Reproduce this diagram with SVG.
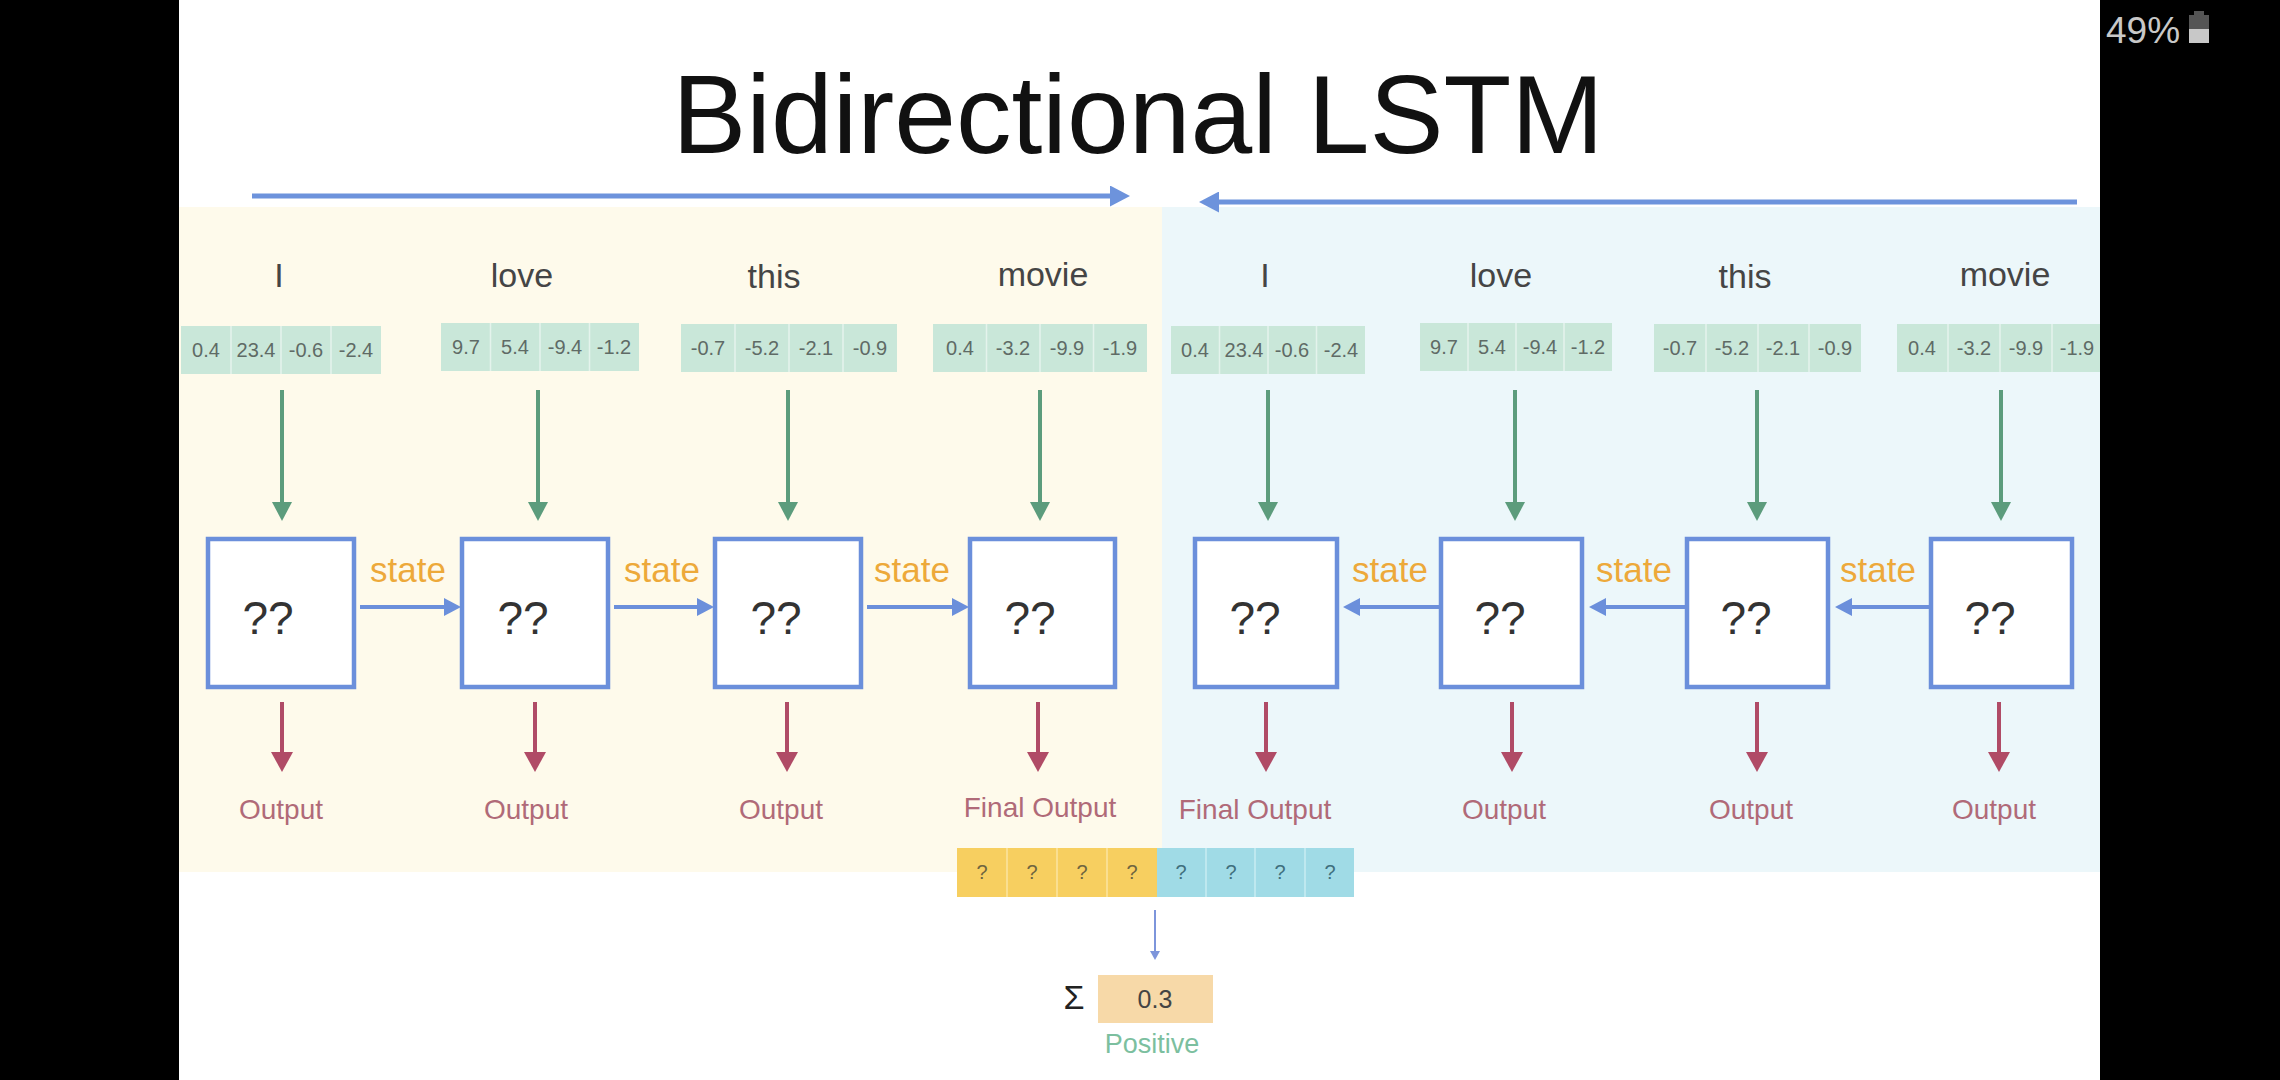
<svg xmlns="http://www.w3.org/2000/svg" width="2280" height="1080" viewBox="0 0 2280 1080">
<defs>
<style>
text{font-family:"Liberation Sans",Arial,sans-serif;}
.word{font-size:34px;fill:#454545;text-anchor:middle;}
.num{font-size:20px;fill:#5f6b66;text-anchor:middle;}
.vec{fill:#c9e7d9;}
.div{stroke:#e4f3ec;stroke-width:1.5;}
.ydiv{stroke:#fbe4a0;stroke-width:1.5;}
.bdiv{stroke:#c8ecf2;stroke-width:1.5;}
.box{fill:#ffffff;stroke:#6b8fdb;stroke-width:4.5;}
.qq{font-size:46px;fill:#333333;text-anchor:middle;}
.state{font-size:35px;fill:#eda93a;text-anchor:middle;}
.out{font-size:28px;fill:#b06a78;text-anchor:middle;}
.green{stroke:#5c9c7c;stroke-width:4;fill:none;}
.red{stroke:#b04b66;stroke-width:4;fill:none;}
.blue{stroke:#6b8fdb;stroke-width:4;fill:none;}
.top{stroke:#6d93dc;stroke-width:5;fill:none;}
.thin{stroke:#7d95db;stroke-width:2;fill:none;}
.q{font-size:20px;text-anchor:middle;}
</style>
<marker id="hg" markerUnits="userSpaceOnUse" markerWidth="20" markerHeight="20" refX="0" refY="10" orient="auto"><path d="M0,0 L19,10 L0,20 z" fill="#5c9c7c"/></marker>
<marker id="hr" markerUnits="userSpaceOnUse" markerWidth="22" markerHeight="22" refX="0" refY="11" orient="auto"><path d="M0,0 L20,11 L0,22 z" fill="#b04b66"/></marker>
<marker id="hb" markerUnits="userSpaceOnUse" markerWidth="18" markerHeight="18" refX="0" refY="9" orient="auto"><path d="M0,0 L17,9 L0,18 z" fill="#6b8fdb"/></marker>
<marker id="ht" markerUnits="userSpaceOnUse" markerWidth="21" markerHeight="21" refX="0" refY="10.5" orient="auto"><path d="M0,0 L20,10.5 L0,21 z" fill="#6d93dc"/></marker>
<marker id="hs" markerUnits="userSpaceOnUse" markerWidth="10" markerHeight="10" refX="0" refY="5" orient="auto"><path d="M0,0 L9,5 L0,10 z" fill="#7d95db"/></marker>
</defs>

<rect x="0" y="0" width="2280" height="1080" fill="#ffffff"/>
<rect id="panel-forward" x="179" y="207" width="983" height="665" fill="#fefaeb"/>
<rect id="panel-backward" x="1162" y="207" width="938" height="665" fill="#ecf7fa"/>

<text id="title" x="1138" y="153" font-size="111" fill="#111111" text-anchor="middle">Bidirectional LSTM</text>

<g id="connectors">
<line class="top" x1="252" y1="196" x2="1110" y2="196" marker-end="url(#ht)"/>
<line class="top" x1="2077" y1="202" x2="1219" y2="202" marker-end="url(#ht)"/>
<line class="green" x1="282" y1="390" x2="282" y2="502" marker-end="url(#hg)"/>
<line class="green" x1="538" y1="390" x2="538" y2="502" marker-end="url(#hg)"/>
<line class="green" x1="788" y1="390" x2="788" y2="502" marker-end="url(#hg)"/>
<line class="green" x1="1040" y1="390" x2="1040" y2="502" marker-end="url(#hg)"/>
<line class="green" x1="1268" y1="390" x2="1268" y2="502" marker-end="url(#hg)"/>
<line class="green" x1="1515" y1="390" x2="1515" y2="502" marker-end="url(#hg)"/>
<line class="green" x1="1757" y1="390" x2="1757" y2="502" marker-end="url(#hg)"/>
<line class="green" x1="2001" y1="390" x2="2001" y2="502" marker-end="url(#hg)"/>
<line class="blue" x1="360" y1="607" x2="444" y2="607" marker-end="url(#hb)"/>
<line class="blue" x1="614" y1="607" x2="697" y2="607" marker-end="url(#hb)"/>
<line class="blue" x1="867" y1="607" x2="952" y2="607" marker-end="url(#hb)"/>
<line class="blue" x1="1441" y1="607" x2="1360" y2="607" marker-end="url(#hb)"/>
<line class="blue" x1="1687" y1="607" x2="1606" y2="607" marker-end="url(#hb)"/>
<line class="blue" x1="1931" y1="607" x2="1852" y2="607" marker-end="url(#hb)"/>
<line class="red" x1="282" y1="702" x2="282" y2="752" marker-end="url(#hr)"/>
<line class="red" x1="535" y1="702" x2="535" y2="752" marker-end="url(#hr)"/>
<line class="red" x1="787" y1="702" x2="787" y2="752" marker-end="url(#hr)"/>
<line class="red" x1="1038" y1="702" x2="1038" y2="752" marker-end="url(#hr)"/>
<line class="red" x1="1266" y1="702" x2="1266" y2="752" marker-end="url(#hr)"/>
<line class="red" x1="1512" y1="702" x2="1512" y2="752" marker-end="url(#hr)"/>
<line class="red" x1="1757" y1="702" x2="1757" y2="752" marker-end="url(#hr)"/>
<line class="red" x1="1999" y1="702" x2="1999" y2="752" marker-end="url(#hr)"/>
<line class="thin" x1="1155" y1="910" x2="1155" y2="951" marker-end="url(#hs)"/>
<text class="state" x="408" y="582">state</text>
<text class="state" x="662" y="582">state</text>
<text class="state" x="912" y="582">state</text>
<text class="state" x="1390" y="582">state</text>
<text class="state" x="1634" y="582">state</text>
<text class="state" x="1878" y="582">state</text>
</g>

<g id="fw-word-1"><text class="word" x="279" y="287">I</text>
<rect class="vec" x="181" y="326" width="200" height="48"/>
<line class="div" x1="231" y1="326" x2="231" y2="374"/><line class="div" x1="281" y1="326" x2="281" y2="374"/><line class="div" x1="331" y1="326" x2="331" y2="374"/>
<text class="num" x="206" y="357">0.4</text><text class="num" x="256" y="357">23.4</text><text class="num" x="306" y="357">-0.6</text><text class="num" x="356" y="357">-2.4</text></g>

<g id="fw-word-2"><text class="word" x="522" y="287">love</text>
<rect class="vec" x="441" y="323" width="198" height="48"/>
<line class="div" x1="490.5" y1="323" x2="490.5" y2="371"/><line class="div" x1="540" y1="323" x2="540" y2="371"/><line class="div" x1="589.5" y1="323" x2="589.5" y2="371"/>
<text class="num" x="466" y="354">9.7</text><text class="num" x="515" y="354">5.4</text><text class="num" x="565" y="354">-9.4</text><text class="num" x="614" y="354">-1.2</text></g>

<g id="fw-word-3"><text class="word" x="774" y="288">this</text>
<rect class="vec" x="681" y="324" width="216" height="48"/>
<line class="div" x1="735" y1="324" x2="735" y2="372"/><line class="div" x1="789" y1="324" x2="789" y2="372"/><line class="div" x1="843" y1="324" x2="843" y2="372"/>
<text class="num" x="708" y="355">-0.7</text><text class="num" x="762" y="355">-5.2</text><text class="num" x="816" y="355">-2.1</text><text class="num" x="870" y="355">-0.9</text></g>

<g id="fw-word-4"><text class="word" x="1043" y="286">movie</text>
<rect class="vec" x="933" y="324" width="214" height="48"/>
<line class="div" x1="986.5" y1="324" x2="986.5" y2="372"/><line class="div" x1="1040" y1="324" x2="1040" y2="372"/><line class="div" x1="1093.5" y1="324" x2="1093.5" y2="372"/>
<text class="num" x="960" y="355">0.4</text><text class="num" x="1013" y="355">-3.2</text><text class="num" x="1067" y="355">-9.9</text><text class="num" x="1120" y="355">-1.9</text></g>

<g id="bw-word-1"><text class="word" x="1265" y="287">I</text>
<rect class="vec" x="1171" y="326" width="194" height="48"/>
<line class="div" x1="1219.5" y1="326" x2="1219.5" y2="374"/><line class="div" x1="1268" y1="326" x2="1268" y2="374"/><line class="div" x1="1316.5" y1="326" x2="1316.5" y2="374"/>
<text class="num" x="1195" y="357">0.4</text><text class="num" x="1244" y="357">23.4</text><text class="num" x="1292" y="357">-0.6</text><text class="num" x="1341" y="357">-2.4</text></g>

<g id="bw-word-2"><text class="word" x="1501" y="287">love</text>
<rect class="vec" x="1420" y="323" width="192" height="48"/>
<line class="div" x1="1468" y1="323" x2="1468" y2="371"/><line class="div" x1="1516" y1="323" x2="1516" y2="371"/><line class="div" x1="1564" y1="323" x2="1564" y2="371"/>
<text class="num" x="1444" y="354">9.7</text><text class="num" x="1492" y="354">5.4</text><text class="num" x="1540" y="354">-9.4</text><text class="num" x="1588" y="354">-1.2</text></g>

<g id="bw-word-3"><text class="word" x="1745" y="288">this</text>
<rect class="vec" x="1654" y="324" width="207" height="48"/>
<line class="div" x1="1706" y1="324" x2="1706" y2="372"/><line class="div" x1="1758" y1="324" x2="1758" y2="372"/><line class="div" x1="1809" y1="324" x2="1809" y2="372"/>
<text class="num" x="1680" y="355">-0.7</text><text class="num" x="1732" y="355">-5.2</text><text class="num" x="1783" y="355">-2.1</text><text class="num" x="1835" y="355">-0.9</text></g>

<g id="bw-word-4"><text class="word" x="2005" y="286">movie</text>
<rect class="vec" x="1897" y="324" width="207" height="48"/>
<line class="div" x1="1948" y1="324" x2="1948" y2="372"/><line class="div" x1="2000" y1="324" x2="2000" y2="372"/><line class="div" x1="2052" y1="324" x2="2052" y2="372"/>
<text class="num" x="1922" y="355">0.4</text><text class="num" x="1974" y="355">-3.2</text><text class="num" x="2026" y="355">-9.9</text><text class="num" x="2077" y="355">-1.9</text></g>

<g id="fw-cell-1"><rect class="box" x="208" y="539" width="146" height="148"/><text class="qq" x="268" y="634">??</text></g>
<g id="fw-cell-2"><rect class="box" x="462" y="539" width="146" height="148"/><text class="qq" x="523" y="634">??</text></g>
<g id="fw-cell-3"><rect class="box" x="715" y="539" width="146" height="148"/><text class="qq" x="776" y="634">??</text></g>
<g id="fw-cell-4"><rect class="box" x="970" y="539" width="145" height="148"/><text class="qq" x="1030" y="634">??</text></g>
<g id="bw-cell-1"><rect class="box" x="1195" y="539" width="142" height="148"/><text class="qq" x="1255" y="634">??</text></g>
<g id="bw-cell-2"><rect class="box" x="1441" y="539" width="141" height="148"/><text class="qq" x="1500" y="634">??</text></g>
<g id="bw-cell-3"><rect class="box" x="1687" y="539" width="141" height="148"/><text class="qq" x="1746" y="634">??</text></g>
<g id="bw-cell-4"><rect class="box" x="1931" y="539" width="141" height="148"/><text class="qq" x="1990" y="634">??</text></g>

<g id="fw-out-1"><text class="out" x="281" y="819">Output</text></g>
<g id="fw-out-2"><text class="out" x="526" y="819">Output</text></g>
<g id="fw-out-3"><text class="out" x="781" y="819">Output</text></g>
<g id="fw-out-4"><text class="out" x="1040" y="817">Final Output</text></g>
<g id="bw-out-1"><text class="out" x="1255" y="819">Final Output</text></g>
<g id="bw-out-2"><text class="out" x="1504" y="819">Output</text></g>
<g id="bw-out-3"><text class="out" x="1751" y="819">Output</text></g>
<g id="bw-out-4"><text class="out" x="1994" y="819">Output</text></g>

<g id="concat">
<rect x="957" y="848" width="200" height="49" fill="#f7cf60"/>
<rect x="1157" y="848" width="197" height="49" fill="#a0dbe6"/>
<line class="ydiv" x1="1007" y1="848" x2="1007" y2="897"/>
<line class="ydiv" x1="1057" y1="848" x2="1057" y2="897"/>
<line class="ydiv" x1="1107" y1="848" x2="1107" y2="897"/>
<line class="bdiv" x1="1206" y1="848" x2="1206" y2="897"/>
<line class="bdiv" x1="1255" y1="848" x2="1255" y2="897"/>
<line class="bdiv" x1="1305" y1="848" x2="1305" y2="897"/>
<g fill="#6e6540"><text class="q" x="982" y="879">?</text><text class="q" x="1032" y="879">?</text><text class="q" x="1082" y="879">?</text><text class="q" x="1132" y="879">?</text></g>
<g fill="#3f6f7d"><text class="q" x="1181" y="879">?</text><text class="q" x="1231" y="879">?</text><text class="q" x="1280" y="879">?</text><text class="q" x="1330" y="879">?</text></g>
</g>

<g id="sum">
<text x="1074" y="1009" font-size="34" fill="#222222" text-anchor="middle">Σ</text>
<rect x="1098" y="975" width="115" height="48" fill="#f7d9a8"/>
<text x="1155" y="1008" font-size="25" fill="#444444" text-anchor="middle">0.3</text>
<text x="1152" y="1053" font-size="27" fill="#7cbf9f" text-anchor="middle">Positive</text>
</g>

<rect x="0" y="0" width="179" height="1080" fill="#000000"/>
<rect x="2100" y="0" width="180" height="1080" fill="#000000"/>
<g id="status">
<text x="2106" y="43" font-family="Roboto, sans-serif" font-size="37" fill="#c8c8c8">49%</text>
<rect x="2194" y="11" width="10" height="5" fill="#555555"/>
<rect x="2189" y="15" width="20" height="14" fill="#555555"/>
<rect x="2189" y="29" width="20" height="14" fill="#c8c8c8"/>
</g>
</svg>
